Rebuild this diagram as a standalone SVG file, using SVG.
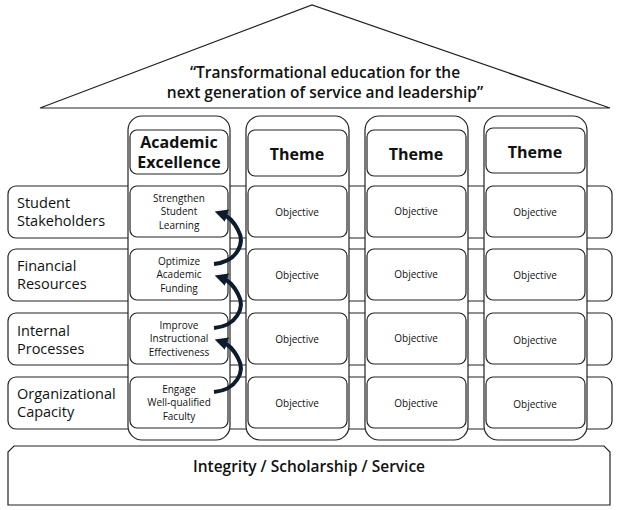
<svg xmlns="http://www.w3.org/2000/svg" width="620" height="510" viewBox="0 0 620 510">
<style>
.b{fill:#fff;stroke:#222;stroke-width:1.2}
.t{font-family:"Open Sans","DejaVu Sans",sans-serif;fill:#111}
.s{font-size:10px;text-anchor:middle}
.l{font-size:14.5px}
.h{font-size:16px;font-weight:bold;text-anchor:middle}
.a{fill:none;stroke:#0d1b2e;stroke-width:4}
</style>
<defs><marker id="ah" viewBox="0 0 10 10" refX="4" refY="5" markerWidth="3.2" markerHeight="3.2" orient="auto"><path d="M0,0L10,5L0,10z" fill="#0d1b2e"/></marker></defs>
<g id="roof"><path class="b" d="M40,108L312,5L610,108Z"/>
<text class="t" x="325" y="78" font-size="15.5" font-weight="600" text-anchor="middle">“Transformational education for the</text>
<text class="t" x="325" y="98" font-size="15.5" font-weight="600" text-anchor="middle">next generation of service and leadership”</text></g>
<g id="base"><path class="b" d="M14,446H604L610,452V505H8V452Z"/>
<text class="t" x="309" y="472" font-size="15.5" font-weight="600" text-anchor="middle">Integrity / Scholarship / Service</text></g>
<g id="rows">
<rect class="b" x="8" y="186" width="604" height="52" rx="8"/>
<rect class="b" x="8" y="249" width="604" height="52" rx="8"/>
<rect class="b" x="8" y="313" width="604" height="52" rx="8"/>
<rect class="b" x="8" y="377" width="604" height="52" rx="8"/>
<text class="t l" x="17" y="208">Student</text><text class="t l" x="17" y="226">Stakeholders</text>
<text class="t l" x="17" y="271">Financial</text><text class="t l" x="17" y="289">Resources</text>
<text class="t l" x="17" y="336">Internal</text><text class="t l" x="17" y="354">Processes</text>
<text class="t l" x="17" y="399">Organizational</text><text class="t l" x="17" y="417">Capacity</text>
</g>
<g id="col1">
<rect class="b" x="128" y="116" width="102" height="324" rx="14"/>
<rect class="b" x="130" y="130" width="98" height="44" rx="7"/>
<text class="t h" x="179" y="148" font-size="15">Academic</text><text class="t h" x="179" y="168" font-size="13.5">Excellence</text>
<rect class="b" x="130" y="186" width="98" height="51" rx="7"/>
<text class="t s" x="179" y="202">Strengthen</text><text class="t s" x="179" y="215">Student</text><text class="t s" x="179" y="229">Learning</text>
<rect class="b" x="130" y="249" width="98" height="51" rx="7"/>
<text class="t s" x="179" y="265">Optimize</text><text class="t s" x="179" y="278">Academic</text><text class="t s" x="179" y="292">Funding</text>
<rect class="b" x="130" y="313" width="98" height="51" rx="7"/>
<text class="t s" x="179" y="329">Improve</text><text class="t s" x="179" y="342">Instructional</text><text class="t s" x="179" y="356">Effectiveness</text>
<rect class="b" x="130" y="377" width="98" height="51" rx="7"/>
<text class="t s" x="179" y="393">Engage</text><text class="t s" x="179" y="406">Well-qualified</text><text class="t s" x="179" y="420">Faculty</text>
</g>
<g id="col2">
<rect class="b" x="246" y="116" width="103" height="324" rx="14"/>
<rect class="b" x="248" y="130" width="99" height="46" rx="7"/>
<text class="t h" x="297" y="160">Theme</text>
<rect class="b" x="248" y="186" width="99" height="51" rx="7"/><text class="t s" x="297" y="216">Objective</text>
<rect class="b" x="248" y="249" width="99" height="51" rx="7"/><text class="t s" x="297" y="279">Objective</text>
<rect class="b" x="248" y="313" width="99" height="51" rx="7"/><text class="t s" x="297" y="343">Objective</text>
<rect class="b" x="248" y="377" width="99" height="51" rx="7"/><text class="t s" x="297" y="407">Objective</text>
</g>
<g id="col3">
<rect class="b" x="365" y="116" width="103" height="324" rx="14"/>
<rect class="b" x="367" y="130" width="99" height="46" rx="7"/>
<text class="t h" x="416" y="160">Theme</text>
<rect class="b" x="367" y="186" width="99" height="51" rx="7"/><text class="t s" x="416" y="215">Objective</text>
<rect class="b" x="367" y="249" width="99" height="51" rx="7"/><text class="t s" x="416" y="278">Objective</text>
<rect class="b" x="367" y="313" width="99" height="51" rx="7"/><text class="t s" x="416" y="342">Objective</text>
<rect class="b" x="367" y="377" width="99" height="51" rx="7"/><text class="t s" x="416" y="407">Objective</text>
</g>
<g id="col4">
<rect class="b" x="484" y="116" width="103" height="324" rx="14"/>
<rect class="b" x="486" y="128" width="99" height="45" rx="7"/>
<text class="t h" x="535" y="158">Theme</text>
<rect class="b" x="486" y="186" width="99" height="51" rx="7"/><text class="t s" x="535" y="216">Objective</text>
<rect class="b" x="486" y="249" width="99" height="51" rx="7"/><text class="t s" x="535" y="279">Objective</text>
<rect class="b" x="486" y="313" width="99" height="51" rx="7"/><text class="t s" x="535" y="344">Objective</text>
<rect class="b" x="486" y="377" width="99" height="51" rx="7"/><text class="t s" x="535" y="408">Objective</text>
</g>
<g id="connectors">
<path class="a" marker-end="url(#ah)" d="M214,264C236,262 246,244 238,230C234,222 228,216 222,214"/>
<path class="a" marker-end="url(#ah)" d="M214,328C236,326 246,308 238,294C234,286 228,280 222,278"/>
<path class="a" marker-end="url(#ah)" d="M214,392C236,390 246,372 238,358C234,350 228,344 222,342"/>
</g>
</svg>
